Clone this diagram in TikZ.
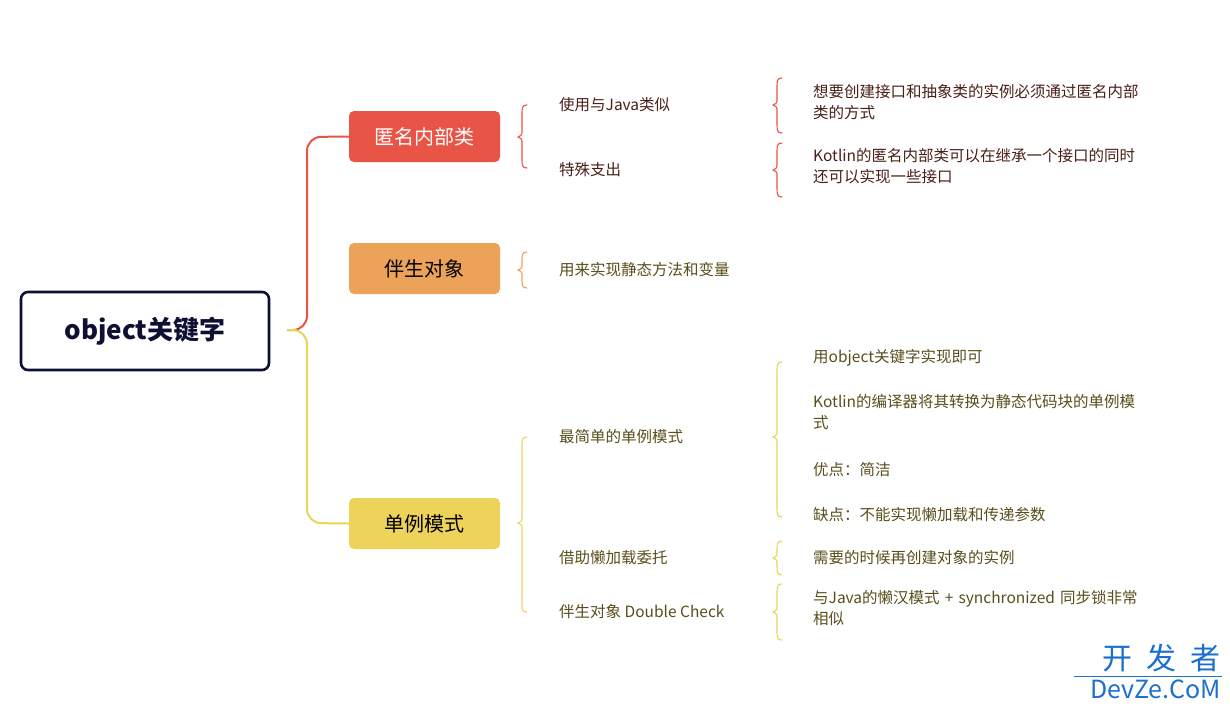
\documentclass[tikz,border=0pt]{standalone}
\usepackage{fontspec}
\setmainfont{Noto Sans CJK SC}
\definecolor{cred}{HTML}{E85445}
\definecolor{corg}{HTML}{EDA25A}
\definecolor{cyel}{HTML}{EDD35A}
\definecolor{navy}{HTML}{0D1033}
\definecolor{tred}{HTML}{4A2018}
\definecolor{tyel}{HTML}{5A4E1C}
\definecolor{wblue}{HTML}{1A6FD0}
\newcommand\mybrace[5]{\draw[#1,line width=1.1pt,line cap=round] (#2+9,#3) .. controls (#2+4,#3) and (#2+4,#3+3) .. (#2+4,#3+9) -- (#2+4,#4-6) .. controls (#2+4,#4-2) .. (#2,#4) .. controls (#2+4,#4+2) .. (#2+4,#4+6) -- (#2+4,#5-9) .. controls (#2+4,#5-3) and (#2+4,#5) .. (#2+9,#5);}
\tikzset{
  box/.style={rounded corners=5pt,minimum width=151pt,minimum height=51pt,font=\fontsize{20}{24}\selectfont,inner sep=0pt},
  lbl/.style={anchor=west,font=\fontsize{15.5}{20}\selectfont,inner sep=0pt},
  leaf/.style={anchor=north west,align=left,text width=380pt,font=\fontsize{15.5}{21}\selectfont,inner sep=0pt},
}
\begin{document}
\begin{tikzpicture}[x=1pt,y=-1pt]
\useasboundingbox[fill=white] (0,0) rectangle (1230,709);
\node[draw=navy,line width=2.6pt,rounded corners=7pt,minimum width=248pt,minimum height=78pt,font=\fontsize{26}{30}\selectfont\bfseries,text=navy] (root) at (145,331) {object关键字};
\node[box,fill=cred,text=white] (a) at (424.5,136.5) {匿名内部类};
\node[box,fill=corg,text=black] (b) at (424.5,268.5) {伴生对象};
\node[box,fill=cyel,text=black] (c) at (424.5,523.5) {单例模式};
\coordinate (r0) at (287,330);
\draw[cred,line width=2pt,rounded corners=14pt] (r0) -- (307,330) -- (307,137) -- (a.west);
\draw[cyel,line width=2pt,rounded corners=14pt] (r0) -- (307,330) -- (307,523) -- (c.west);
\mybrace{cred}{518}{105}{137}{168}
\mybrace{corg}{518}{252}{270}{288}
\mybrace{cyel}{518}{437}{523}{612}
\node[lbl,text=tred] (a1) at (559,105) {使用与Java类似};
\node[lbl,text=tred] (a2) at (559,170) {特殊支出};
\node[lbl,text=tyel] (b1) at (559,270) {用来实现静态方法和变量};
\node[lbl,text=tyel] (c1) at (559,437) {最简单的单例模式};
\node[lbl,text=tyel] (c2) at (559,558) {借助懒加载委托};
\node[lbl,text=tyel] (c3) at (559,612) {伴生对象 Double Check};
\mybrace{cred}{773}{78}{105}{133}
\mybrace{cred}{773}{143}{170}{197}
\mybrace{cyel}{773}{362}{437}{517}
\mybrace{cyel}{773}{541}{558}{575}
\mybrace{cyel}{773}{584}{612}{640}
\node[leaf,text=tred] (a11) at (813,84) {想要创建接口和抽象类的实例必须通过匿名内部\\类的方式};
\node[leaf,text=tred] (a21) at (813,148) {Kotlin的匿名内部类可以在继承一个接口的同时\\还可以实现一些接口};
\node[lbl,text=tyel] (c11) at (813,358) {用object关键字实现即可};
\node[leaf,text=tyel] (c12) at (813,394) {Kotlin的编译器将其转换为静态代码块的单例模\\式};
\node[lbl,text=tyel] (c13) at (813,470) {优点：简洁};
\node[lbl,text=tyel] (c14) at (813,515) {缺点：不能实现懒加载和传递参数};
\node[lbl,text=tyel] (c21) at (813,558) {需要的时候再创建对象的实例};
\node[leaf,text=tyel] (c31) at (813,590) {与Java的懒汉模式 + synchronized 同步锁非常\\相似};
\node[anchor=base east,inner sep=0pt,text=wblue,font=\fontsize{30}{30}\selectfont] (w1) at (1221,669) {开\hspace{14pt}发\hspace{14pt}者};
\draw[wblue,line width=0.8pt] (1074,676) -- (1222,676);
\node[anchor=base east,inner sep=0pt,text=wblue,font=\fontsize{25}{25}\selectfont] (w2) at (1221,698) {DevZe.CoM};
\end{tikzpicture}
\end{document}
